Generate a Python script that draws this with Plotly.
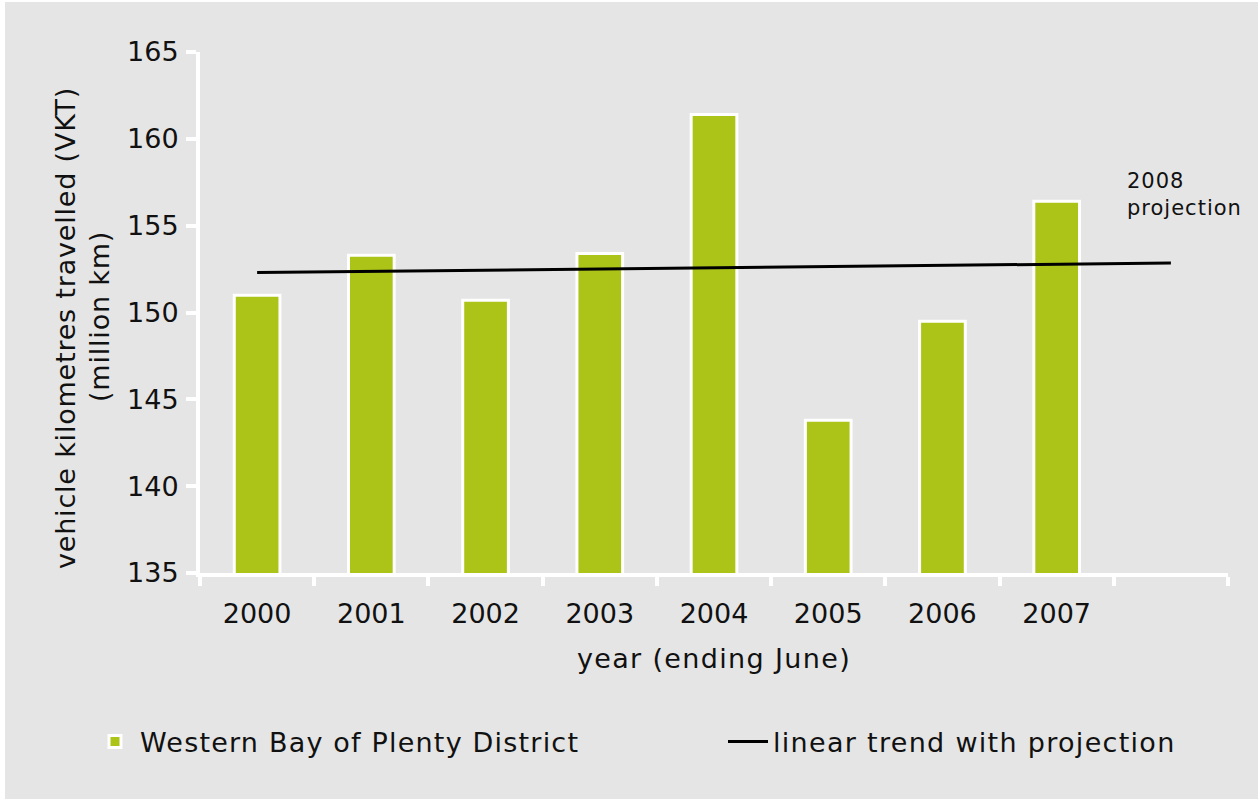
import plotly.graph_objects as go

# ---- data ----
years = ["2000", "2001", "2002", "2003", "2004", "2005", "2006", "2007"]
vkt = [151.0, 153.3, 150.7, 153.4, 161.4, 143.8, 149.5, 156.4]
projection_slot = " "          # empty category slot used for the 2008 projection
trend_x = ["2000", projection_slot]
trend_y = [152.3, 152.85]
y_ticks = [135, 140, 145, 150, 155, 160, 165]

series_name = "Western Bay of Plenty District"
trend_name = "linear trend with projection"
x_title = "year (ending June)"
y_title_1 = "vehicle kilometres travelled (VKT)"
y_title_2 = "(million km)"
proj_label_1 = "2008"
proj_label_2 = "projection"

FONT = "DejaVu Sans"
BG = "#e5e5e5"
GREEN = "#acc418"
TXT = "#111111"
W, H = 1258, 799
L, R, T, B = 200, 30, 52, 226
pw = W - L - R
ph = H - T - B


def px_x(p):
    return (p - L) / pw


def px_y(p):
    return (H - B - p) / ph


def spaced(s, sp=1.3):
    return f'<span style="letter-spacing:{sp}px">{s}</span>'


fig = go.Figure()
fig.add_trace(go.Bar(
    x=years, y=vkt, name=spaced(series_name, 1.2),
    marker=dict(color=GREEN, line=dict(color="white", width=3)),
    cliponaxis=False, legend="legend",
))
fig.add_trace(go.Scatter(
    x=trend_x, y=trend_y, mode="lines", name=spaced(trend_name, 1.3),
    line=dict(color="black", width=3), legend="legend2",
))

legend_common = dict(
    orientation="h", xanchor="left", yanchor="middle",
    bgcolor="rgba(0,0,0,0)", font=dict(size=27, color=TXT), itemwidth=40,
)

fig.update_layout(
    width=W, height=H,
    margin=dict(l=L, r=R, t=T, b=B, pad=0),
    paper_bgcolor=BG, plot_bgcolor=BG,
    font=dict(family=FONT, size=27, color=TXT),
    bargap=0.6,
    showlegend=True,
    legend=dict(x=px_x(90), y=px_y(742), **legend_common),
    legend2=dict(x=px_x(723), y=px_y(742), **legend_common),
    xaxis=dict(
        type="category", categoryorder="array", categoryarray=years + [projection_slot],
        range=[-0.5, 8.5], tickson="boundaries",
        showline=True, linecolor="white", linewidth=4,
        ticks="outside", ticklen=9, tickwidth=4, tickcolor="white",
        showgrid=False, zeroline=False,
        tickfont=dict(size=27), ticklabelstandoff=14,
        title=dict(text=spaced(x_title, 1.35), font=dict(size=27), standoff=22),
    ),
    yaxis=dict(
        range=[135, 165], tickvals=y_ticks,
        showline=True, linecolor="white", linewidth=4,
        ticks="outside", ticklen=10, tickwidth=4, tickcolor="white",
        showgrid=False, zeroline=False,
        tickfont=dict(size=27), ticklabelstandoff=2,
    ),
    shapes=[
        dict(type="rect", xref="paper", yref="paper", layer="below",
             x0=px_x(-5), x1=px_x(5), y0=px_y(-5), y1=px_y(H + 5),
             fillcolor="white", line=dict(width=0)),
        dict(type="rect", xref="paper", yref="paper", layer="below",
             x0=px_x(-5), x1=px_x(W + 5), y0=px_y(2), y1=px_y(-5),
             fillcolor="white", line=dict(width=0)),
    ],
    annotations=[
        dict(text=spaced(y_title_1, 0.8), textangle=-90, xref="paper", yref="paper",
             x=px_x(65), y=px_y(328), xanchor="center", yanchor="middle",
             showarrow=False, font=dict(size=27)),
        dict(text=spaced(y_title_2, 0.8), textangle=-90, xref="paper", yref="paper",
             x=px_x(99), y=px_y(317), xanchor="center", yanchor="middle",
             showarrow=False, font=dict(size=27)),
        dict(text=spaced(proj_label_1, 1), xref="paper", yref="paper",
             x=px_x(1125), y=px_y(181), xanchor="left", yanchor="middle", align="left",
             showarrow=False, font=dict(size=21)),
        dict(text=spaced(proj_label_2, 1), xref="paper", yref="paper",
             x=px_x(1125), y=px_y(208), xanchor="left", yanchor="middle", align="left",
             showarrow=False, font=dict(size=21)),
    ],
)

fig.write_html("out.html", config={"displayModeBar": False},
               post_script="document.body.style.margin='0px';")
